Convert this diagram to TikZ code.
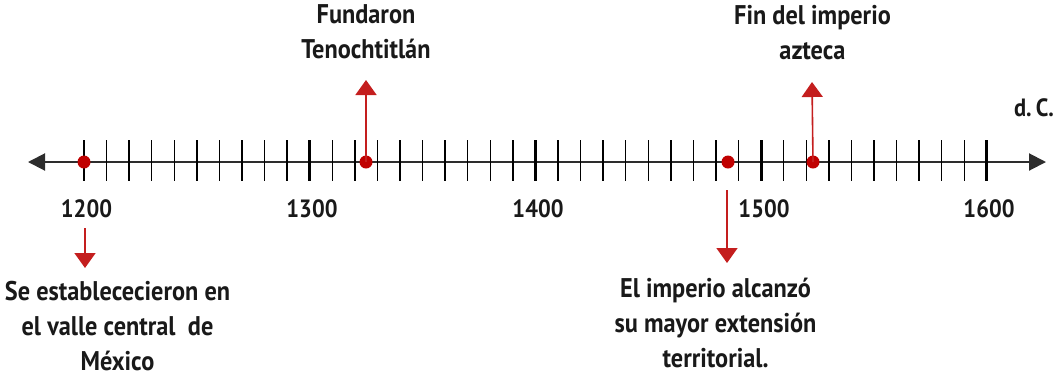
\documentclass[tikz,border=0pt]{standalone}
\usepackage{fontspec}
\setmainfont{PT Sans}[FakeStretch=0.9]
\usetikzlibrary{arrows.meta}
\definecolor{dred}{RGB}{192,0,0}
\definecolor{ared}{RGB}{196,30,30}
\definecolor{axgray}{RGB}{45,45,45}
\tikzset{
  axisline/.style={draw=axgray,line width=2pt,{Triangle[length=17pt,width=17pt]}-{Triangle[length=17pt,width=17pt]}},
  minortick/.style={draw=black,line width=1.4pt},
  majortick/.style={draw=black,line width=2.8pt},
  evdot/.style={circle,fill=dred,inner sep=0pt,minimum size=13pt},
  evarrow/.style={draw=ared,line width=1.6pt,-{Triangle[length=15pt,width=21pt]},color=ared},
  label/.style={font=\bfseries\fontsize{27}{35}\selectfont,align=center,inner sep=0pt,anchor=base,text=black!90},
  year/.style={font=\bfseries\fontsize{25}{28}\selectfont,inner sep=0pt,anchor=base,text=black!90}
}
\begin{document}
\begin{tikzpicture}[x=1pt,y=-1pt]
\useasboundingbox (0,0) rectangle (1054,376);
\coordinate (L) at (28,162);
\coordinate (R) at (1046,162);
\draw[axisline] (L) -- (R);
\foreach \i in {0,...,40}{
  \pgfmathsetmacro{\xx}{84+\i*22.57}
  \pgfmathtruncatemacro{\m}{mod(\i,10)}
  \ifnum\m=0
    \draw[majortick] (\xx,140) -- (\xx,181);
  \else
    \draw[minortick] (\xx,140) -- (\xx,181);
  \fi
}
\node[year] (y1200) at (86.5,217) {1200};
\node[year] (y1300) at (312,217) {1300};
\node[year] (y1400) at (538,217) {1400};
\node[year] (y1500) at (764,217) {1500};
\node[year] (y1600) at (989,217) {1600};
\node[year] (dc) at (1034,116) {d.\,C.};

\node[evdot] (d1) at (84,162) {};
\node[evdot] (d2) at (366,162) {};
\node[evdot] (d3) at (728,162) {};
\node[evdot] (d4) at (813,162) {};

\coordinate (t2) at (366,80);
\coordinate (t4) at (812,82);
\coordinate (s1) at (85,228);
\coordinate (e1) at (85,268);
\coordinate (s3) at (727,190);
\coordinate (e3) at (727,263);
\draw[evarrow] (d2.center) -- (t2);
\draw[evarrow] (d4.center) -- (t4);
\draw[evarrow] (s1) -- (e1);
\draw[evarrow] (s3) -- (e3);

\node[label] (n2) at (366,58) {Fundaron\\Tenochtitlán};
\node[label] (n4) at (812.5,59) {Fin del imperio\\azteca};
\node[label] (n1) at (117.5,370) {Se establececieron en\\el valle central\ \ de\\México};
\node[label] (n3) at (715.5,367) {El imperio alcanzó\\su mayor extensión\\territorial.};
\end{tikzpicture}
\end{document}
